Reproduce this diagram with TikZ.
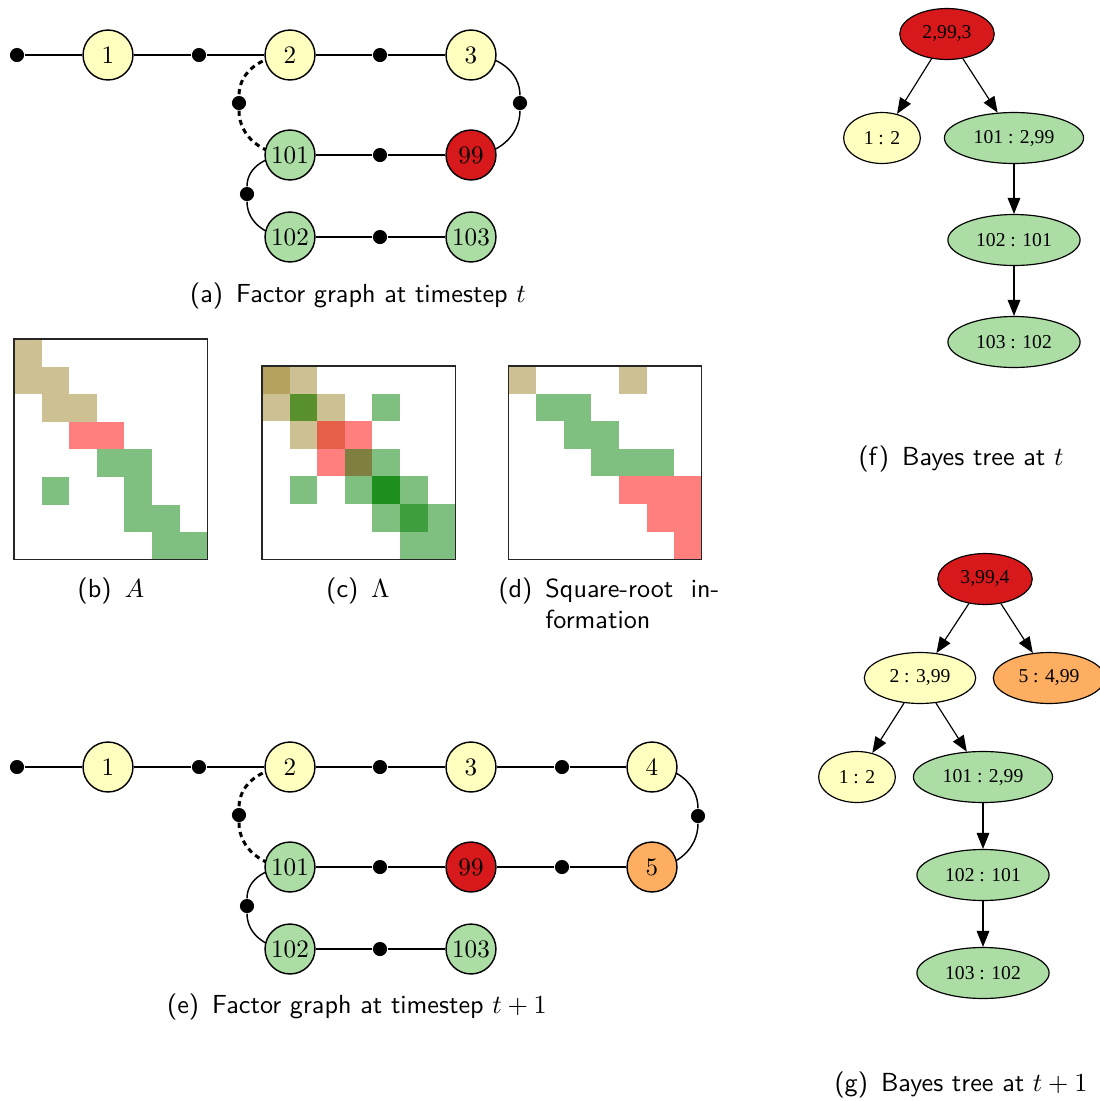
\documentclass[tikz,border=0pt]{standalone}
\usepackage{fontspec}
\newfontfamily\gvfont{Liberation Serif}
\usetikzlibrary{arrows.meta,shapes.geometric,backgrounds}

\definecolor{spred}{HTML}{D7191C}
\definecolor{sporange}{HTML}{FDAE61}
\definecolor{spyellow}{HTML}{FFFFBF}
\definecolor{spgreen}{HTML}{ABDDA4}
\definecolor{ctan}{RGB}{155,131,41}
\definecolor{cred}{RGB}{255,0,0}
\definecolor{cgreen}{RGB}{0,128,0}

\begin{document}
\begin{tikzpicture}[
  x=0.3825pt, y=-0.3825pt,
  var/.style={draw, circle, minimum size=19.1pt, inner sep=0pt, line width=0.55pt,
              font=\fontsize{9.6}{11}\selectfont},
  fac/.style={circle, fill=black, minimum size=5.4pt, inner sep=0pt},
  ed/.style={line width=0.55pt},
  lp/.style={line width=1.15pt, dash pattern=on 2pt off 1.6pt},
  bt/.style={draw, ellipse, minimum height=19.5pt, inner xsep=3.4pt, inner ysep=1pt,
             line width=0.45pt, font=\gvfont\fontsize{7.5}{9}\selectfont},
  fl/.style={-{Triangle[length=6.1pt, width=4.8pt]}, line width=0.45pt},
  subcap/.style={font=\sffamily\fontsize{10}{12}\selectfont, anchor=base, inner sep=0pt},
  mbox/.style={draw=black!85, line width=0.45pt},
  cell/.style={opacity=0.5}
]
\useasboundingbox (0,0) rectangle (1099,1101);

% (a) factor graph at t
\node[fac] (af0) at (17,55) {};
\node[var, fill=spyellow] (a1) at (108,55) {1};
\node[fac] (af1) at (199,55) {};
\node[var, fill=spyellow] (a2) at (290,55) {2};
\node[fac] (af2) at (380,55) {};
\node[var, fill=spyellow] (a3) at (471,55) {3};
\node[fac] (af3) at (520,103) {};
\node[fac] (af4) at (239,103) {};
\node[var, fill=spgreen] (a101) at (290,155) {101};
\node[fac] (af5) at (380,155) {};
\node[var, fill=spred] (a99) at (471,155) {99};
\node[fac] (af6) at (247,194) {};
\node[var, fill=spgreen] (a102) at (290,237) {102};
\node[fac] (af7) at (380,237) {};
\node[var, fill=spgreen] (a103) at (471,237) {103};

\foreach \a/\b in {af0/a1, a1/af1, af1/a2, a2/af2, af2/a3, a101/af5, af5/a99, a102/af7, af7/a103}
  \draw[ed] (\a) -- (\b);
\begin{scope}[on background layer]
  \draw[ed] (a3.center) to[out=0, in=90] (af3) to[out=-90, in=0] (a99.center);
  \draw[ed] (a101.center) to[out=180, in=90] (af6) to[out=-90, in=180] (a102.center);
  \draw[lp] (a2.center) to[out=180, in=90] (af4) to[out=-90, in=180] (a101.center);
\end{scope}
\node[subcap] (capa) at (358,302) {(a)\hspace{.5em}Factor graph at timestep $t$};

% (b) A
\begin{scope}[shift={(14,339)}]
  \foreach \r/\c/\k in {0/0/ctan, 1/0/ctan, 1/1/ctan, 2/1/ctan, 2/2/ctan, 3/2/cred, 3/3/cred,
                        4/3/cgreen, 4/4/cgreen, 5/1/cgreen, 5/4/cgreen, 6/4/cgreen, 6/5/cgreen,
                        7/5/cgreen, 7/6/cgreen}
    \fill[cell, \k] (\c*27.6,\r*27.6) rectangle ++(27.6,27.6);
  \draw[mbox] (0,0) rectangle (193.2,220.8);
\end{scope}
\node[subcap] (capb) at (111,597) {(b)\hspace{.5em}$A$};

% (c) Lambda = A^T A
\begin{scope}[shift={(262,366)}]
  \foreach \f/\k in {{0}/ctan, {0,1}/ctan, {1,2}/ctan, {2,3}/cred, {3,4}/cgreen,
                     {1,4}/cgreen, {4,5}/cgreen, {5,6}/cgreen}
    \foreach \i in \f
      \foreach \j in \f
        \fill[cell, \k] (\j*27.6,\i*27.6) rectangle ++(27.6,27.6);
  \draw[mbox] (0,0) rectangle (193.2,193.2);
\end{scope}
\node[subcap] (capc) at (358,597) {(c)\hspace{.5em}$\Lambda$};

% (d) R
\begin{scope}[shift={(508.5,366)}]
  \foreach \r/\c/\k in {0/0/ctan, 0/4/ctan, 1/1/cgreen, 1/2/cgreen, 2/2/cgreen, 2/3/cgreen,
                        3/3/cgreen, 3/4/cgreen, 3/5/cgreen, 4/4/cred, 4/5/cred, 4/6/cred,
                        5/5/cred, 5/6/cred, 6/6/cred}
    \fill[cell, \k] (\c*27.6,\r*27.6) rectangle ++(27.6,27.6);
  \draw[mbox] (0,0) rectangle (193.2,193.2);
\end{scope}
\node[subcap, anchor=base west] (capd) at (498,597)
  {(d)\hspace{.5em}\parbox[t]{66.5pt}{Square-root\hfill in-\\formation}};

% (e) factor graph at t+1
\node[fac] (ef0) at (17,767) {};
\node[var, fill=spyellow] (e1) at (108,767) {1};
\node[fac] (ef1) at (199,767) {};
\node[var, fill=spyellow] (e2) at (290,767) {2};
\node[fac] (ef2) at (380,767) {};
\node[var, fill=spyellow] (e3) at (471,767) {3};
\node[fac] (ef3) at (562,767) {};
\node[var, fill=spyellow] (e4) at (652,767) {4};
\node[fac] (ef4) at (698,816) {};
\node[fac] (ef5) at (239,815) {};
\node[var, fill=spgreen] (e101) at (290,867) {101};
\node[fac] (ef6) at (380,867) {};
\node[var, fill=spred] (e99) at (471,867) {99};
\node[fac] (ef7) at (562,867) {};
\node[var, fill=sporange] (e5) at (652,867) {5};
\node[fac] (ef8) at (247,906) {};
\node[var, fill=spgreen] (e102) at (290,949) {102};
\node[fac] (ef9) at (380,949) {};
\node[var, fill=spgreen] (e103) at (471,949) {103};

\foreach \a/\b in {ef0/e1, e1/ef1, ef1/e2, e2/ef2, ef2/e3, e3/ef3, ef3/e4,
                   e101/ef6, ef6/e99, e99/ef7, ef7/e5, e102/ef9, ef9/e103}
  \draw[ed] (\a) -- (\b);
\begin{scope}[on background layer]
  \draw[ed] (e4.center) to[out=0, in=90] (ef4) to[out=-90, in=0] (e5.center);
  \draw[ed] (e101.center) to[out=180, in=90] (ef8) to[out=-90, in=180] (e102.center);
  \draw[lp] (e2.center) to[out=180, in=90] (ef5) to[out=-90, in=180] (e101.center);
\end{scope}
\node[subcap] (cape) at (357,1013) {(e)\hspace{.5em}Factor graph at timestep $t+1$};

% (f) Bayes tree at t
\node[bt, fill=spred] (fr) at (947,34) {2,99,3};
\node[bt, fill=spyellow] (f1) at (882,138) {1 : 2};
\node[bt, fill=spgreen] (f101) at (1014,138) {101 : 2,99};
\node[bt, fill=spgreen] (f102) at (1014,240) {102 : 101};
\node[bt, fill=spgreen] (f103) at (1014,342) {103 : 102};
\foreach \a/\b in {fr/f1, fr/f101, f101/f102, f102/f103} \draw[fl] (\a) -- (\b);
\node[subcap] (capf) at (961,465) {(f)\hspace{.5em}Bayes tree at $t$};

% (g) Bayes tree at t+1
\node[bt, fill=spred] (gr) at (985,579) {3,99,4};
\node[bt, fill=spyellow] (g2) at (920,678) {2 : 3,99};
\node[bt, fill=sporange] (g5) at (1049,678) {5 : 4,99};
\node[bt, fill=spyellow] (g1) at (857,777) {1 : 2};
\node[bt, fill=spgreen] (g101) at (983,777) {101 : 2,99};
\node[bt, fill=spgreen] (g102) at (983,875) {102 : 101};
\node[bt, fill=spgreen] (g103) at (983,973) {103 : 102};
\foreach \a/\b in {gr/g2, gr/g5, g2/g1, g2/g101, g101/g102, g102/g103} \draw[fl] (\a) -- (\b);
\node[subcap] (capg) at (961,1091) {(g)\hspace{.5em}Bayes tree at $t+1$};
\end{tikzpicture}
\end{document}
